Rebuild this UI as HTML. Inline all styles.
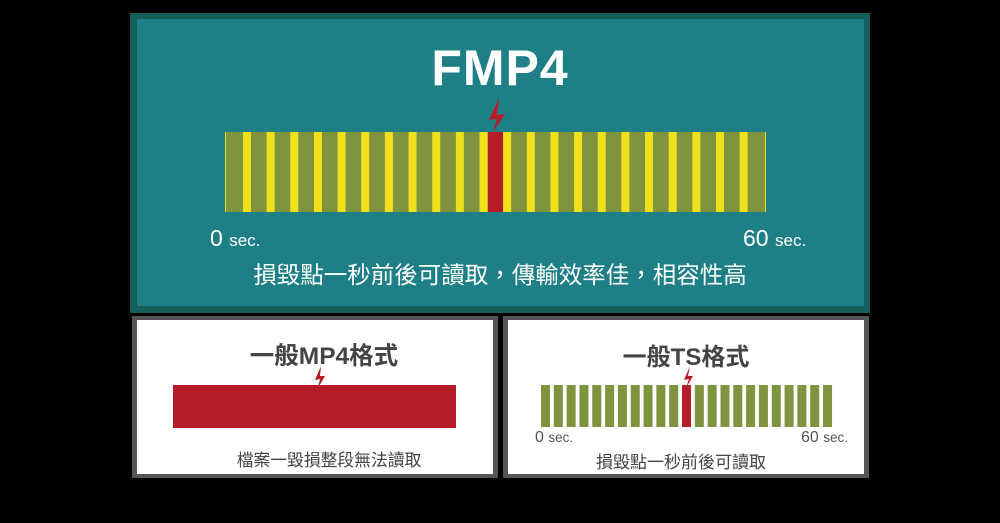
<!DOCTYPE html>
<html><head><meta charset="utf-8"><style>
html,body{margin:0;padding:0;background:#000;width:1000px;height:523px;overflow:hidden;font-family:"Liberation Sans","Noto Sans CJK TC",sans-serif}
.t{position:absolute;white-space:nowrap}
</style></head><body>
<svg width="1000" height="523" style="position:absolute;left:0;top:0">
<rect x="0" y="0" width="1000" height="523" fill="#000"/>
<rect x="130" y="13" width="740" height="300" fill="#13605a"/>
<rect x="137" y="19" width="727" height="287" fill="#1f7f86"/>
<rect x="225" y="132" width="541" height="80" fill="#f0e11c"/>
<rect x="226" y="132" width="539" height="80" fill="#80933e"/>
<g fill="#f0e11c" id="ys"></g>
<rect x="488" y="132" width="15" height="80" fill="#b51c28"/>
<polygon points="499,98 489,120 497,119 493,132 505,114 497,115" fill="#b51c28"/>
<rect x="132" y="316" width="366" height="162" fill="#555"/>
<rect x="137" y="320" width="356" height="154" fill="#fff"/>
<rect x="173" y="385" width="283" height="43" fill="#b51c28"/>
<polygon points="321,366 315,380 320,379 318,388 325,376 320,376" fill="#b51c28"/>
<rect x="503" y="316" width="366" height="162" fill="#555"/>
<rect x="508" y="320" width="356" height="154" fill="#fff"/>
<g id="ts"></g>
<polygon points="690,366 684,380 689,379 686,388 693,376 688,376" fill="#b51c28"/>
</svg>
<script>
var ns="http://www.w3.org/2000/svg";
var g=document.getElementById('ys');
for(var k=0;k<23;k++){var x=243+23.65*k;if(x>760)break;var r=document.createElementNS(ns,'rect');r.setAttribute('x',x);r.setAttribute('y',132);r.setAttribute('width',8);r.setAttribute('height',80);g.appendChild(r);}
var t=document.getElementById('ts');
for(var k=0;k<23;k++){var x=541+12.82*k;var r=document.createElementNS(ns,'rect');r.setAttribute('x',x);r.setAttribute('y',385);r.setAttribute('width',9);r.setAttribute('height',42);r.setAttribute('fill',k==11?'#b51c28':'#80933e');t.appendChild(r);}
</script>
<div class="t" style="left:0;width:1000px;text-align:center;top:39px;font-size:50px;font-weight:bold;color:#fff;letter-spacing:1px">FMP4</div>
<div class="t" style="left:210px;top:225px;font-size:23px;color:#fff">0 <span style="font-size:17px">sec.</span></div>
<div class="t" style="left:743px;top:225px;font-size:23px;color:#fff">60 <span style="font-size:17px">sec.</span></div>
<div class="t" style="left:0;width:1000px;text-align:center;top:256px;font-size:23.5px;color:#fff">損毀點一秒前後可讀取，傳輸效率佳，相容性高</div>
<div class="t" style="left:141px;width:366px;text-align:center;top:337px;font-size:24.5px;font-weight:bold;color:#444">一般MP4格式</div>
<div class="t" style="left:151px;width:356px;text-align:center;top:447px;font-size:16.8px;color:#444">檔案一毀損整段無法讀取</div>
<div class="t" style="left:503px;width:366px;text-align:center;top:337px;font-size:24px;font-weight:bold;color:#444">一般TS格式</div>
<div class="t" style="left:535px;top:429px;font-size:16px;color:#555">0 <span style="font-size:13.5px">sec.</span></div>
<div class="t" style="left:801px;top:429px;font-size:16px;color:#555">60 <span style="font-size:13.5px">sec.</span></div>
<div class="t" style="left:503px;width:356px;text-align:center;top:448px;font-size:17px;color:#444">損毀點一秒前後可讀取</div>
</body></html>
